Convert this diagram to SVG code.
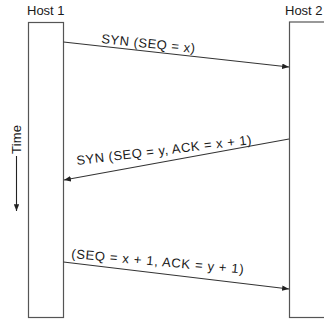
<svg xmlns="http://www.w3.org/2000/svg" width="324" height="325" viewBox="0 0 324 325">
<style>
  text { font-family: "Liberation Sans", Arial, sans-serif; font-size: 13px; fill: #1a1a1a; }
  .host { fill: #ffffff; stroke: #555555; stroke-width: 1.2; }
  .msg { stroke: #333333; stroke-width: 1.1; fill: none; marker-end: url(#ah); }
</style>
<defs>
  <marker id="ah" viewBox="0 0 10 8" refX="10" refY="4" markerWidth="7" markerHeight="5.5" markerUnits="userSpaceOnUse" orient="auto">
    <path d="M0,0 L10,4 L0,8 Z" fill="#222222"/>
  </marker>
</defs>
<rect width="324" height="325" fill="#ffffff"/>
<g id="host1">
  <rect class="host" x="28.5" y="22.5" width="35" height="295"/>
  <text x="27" y="15">Host 1</text>
</g>
<g id="host2">
  <rect class="host" x="289.5" y="22" width="40" height="295.5"/>
  <text x="285" y="15">Host 2</text>
</g>
<g id="time">
  <text transform="translate(21,154) rotate(-90)" textLength="29">Time</text>
  <line x1="16.5" y1="156" x2="16.5" y2="211" stroke="#222" stroke-width="1.1" marker-end="url(#ah)"/>
</g>
<g id="connectors">
  <line class="msg" x1="63.5" y1="42" x2="289" y2="67"/>
  <line class="msg" x1="289" y1="139" x2="64" y2="180"/>
  <line class="msg" x1="63.5" y1="262" x2="289" y2="289"/>
  <text transform="translate(101,43) rotate(6)" textLength="94">SYN (SEQ = x)</text>
  <text transform="translate(77,165) rotate(-6.8)" textLength="176">SYN (SEQ = y, ACK = x + 1)</text>
  <text transform="translate(71,258) rotate(5.2)" textLength="173">(SEQ = x + 1, ACK = y + 1)</text>
</g>
</svg>
